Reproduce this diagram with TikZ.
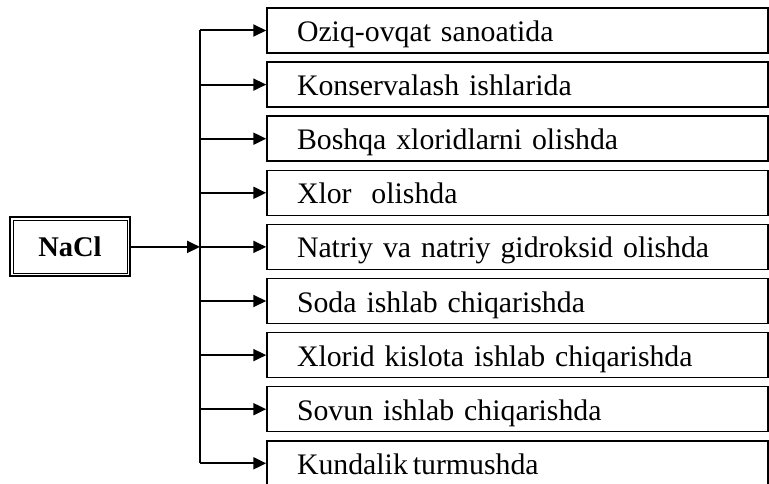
\documentclass[tikz,border=0pt]{standalone}
\usepackage{fontspec}
\setmainfont{Liberation Serif}
\usepackage{tikz}
\usetikzlibrary{arrows.meta, positioning}

\begin{document}
\begin{tikzpicture}[
    x=1pt, y=-1pt,
    usebox/.style={draw, line width=1.5pt, minimum width=501pt, minimum height=45pt,
                   text width=441pt, inner xsep=30pt, inner ysep=0pt, align=left,
                   text height=24pt, text depth=2pt, font=\fontsize{29.8}{36}\selectfont},
    salt/.style={draw, line width=2pt, minimum width=120pt, minimum height=59pt,
                 font=\fontsize{28.5}{34}\selectfont\bfseries},
    arrow/.style={-{Triangle[length=13pt, width=12pt]}, line width=2pt},
    trunk/.style={line width=2pt}
]
    \useasboundingbox (0,0) rectangle (769,484);

    % NaCl (double frame)
    \node[salt] (nacl) at (70,246.9) {NaCl};
    \draw[line width=0.9pt] ([shift={(4pt,-4pt)}]nacl.north west) rectangle ([shift={(-4pt,4pt)}]nacl.south east);

    % uses of NaCl (right column)
    \node[usebox] (u1) at (517.5,30.5)  {Oziq-ovqat sanoatida};
    \node[usebox] (u2) at (517.5,84.6)  {Konservalash ishlarida};
    \node[usebox] (u3) at (517.5,138.7) {Boshqa xloridlarni olishda};
    \node[usebox] (u4) at (517.5,192.8) {Xlor\ \ olishda};
    \node[usebox] (u5) at (517.5,246.9) {Natriy va natriy gidroksid olishda};
    \node[usebox] (u6) at (517.5,301)   {Soda ishlab chiqarishda};
    \node[usebox] (u7) at (517.5,355.1) {Xlorid kislota ishlab chiqarishda};
    \node[usebox] (u8) at (517.5,409.2) {Sovun ishlab chiqarishda};
    \node[usebox] (u9) at (517.5,463.3) {Kundalik\,turmushda};

    % junctions on the vertical line
    \coordinate (j1) at (200,30.5);
    \coordinate (j2) at (200,84.6);
    \coordinate (j3) at (200,138.7);
    \coordinate (j4) at (200,192.8);
    \coordinate (j5) at (200,246.9);
    \coordinate (j6) at (200,301);
    \coordinate (j7) at (200,355.1);
    \coordinate (j8) at (200,409.2);
    \coordinate (j9) at (200,463.3);

    % connectors
    \draw[trunk] (j1) -- (j9);
    \draw[arrow] (nacl.east) -- (j5);
    \draw[arrow] (j1) -- (u1.west);
    \draw[arrow] (j2) -- (u2.west);
    \draw[arrow] (j3) -- (u3.west);
    \draw[arrow] (j4) -- (u4.west);
    \draw[arrow] (j5) -- (u5.west);
    \draw[arrow] (j6) -- (u6.west);
    \draw[arrow] (j7) -- (u7.west);
    \draw[arrow] (j8) -- (u8.west);
    \draw[arrow] (j9) -- (u9.west);

\end{tikzpicture}
\end{document}
